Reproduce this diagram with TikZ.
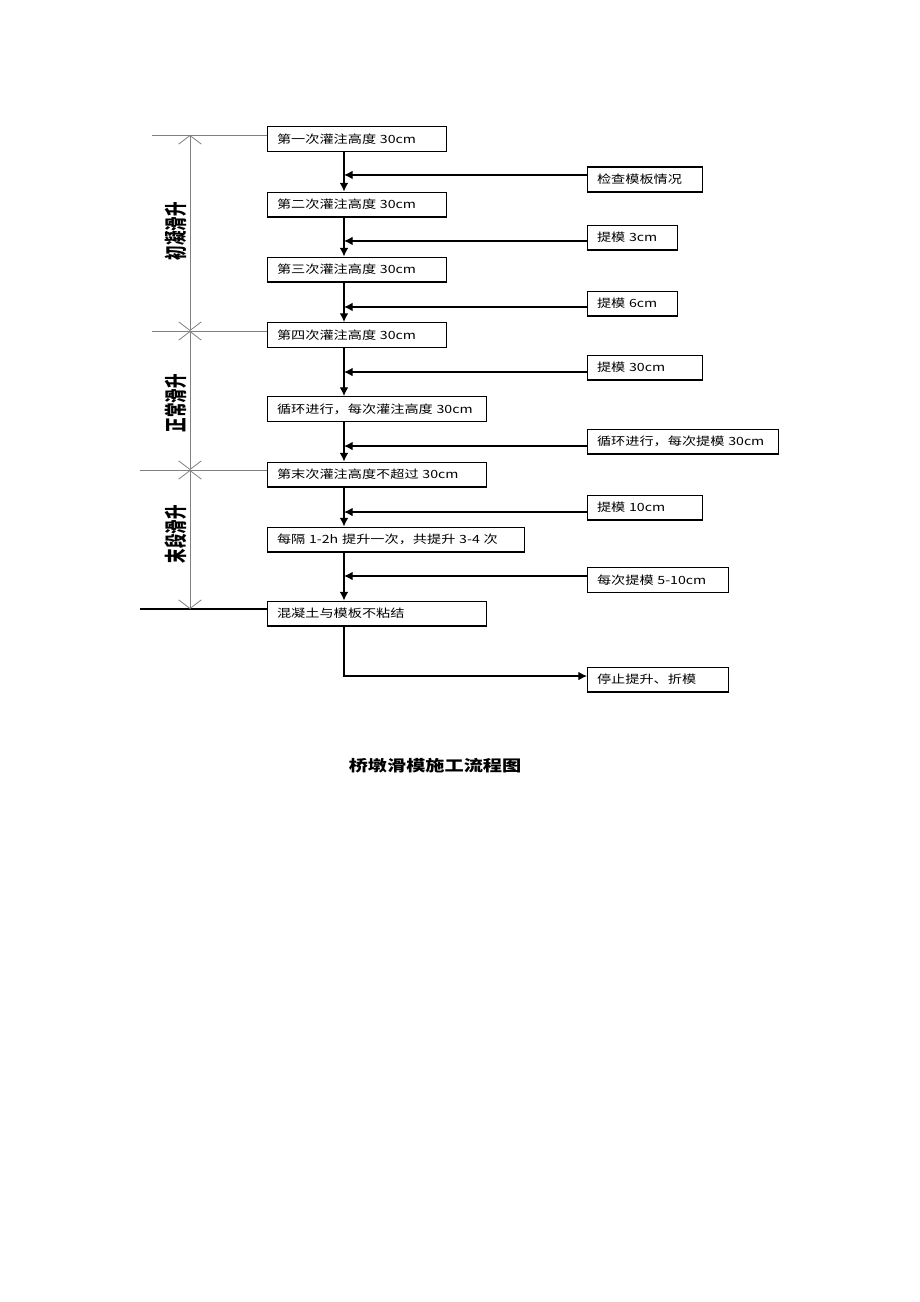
\documentclass[tikz,border=0pt]{standalone}
\usepackage{fontspec}
\newfontfamily\cjk[FakeStretch=1.25]{Noto Sans CJK SC}
\newfontfamily\cjkv[FakeStretch=0.64]{Noto Sans CJK SC}
\usetikzlibrary{arrows.meta}
\tikzset{
  stepbox/.style={draw, line width=1pt, anchor=west, minimum height=18.5pt, inner xsep=7pt, inner ysep=0pt, align=left,
    font=\cjk\fontsize{8.5}{10}\selectfont,
    execute at begin node={\leavevmode\hbox\bgroup}, execute at end node={\egroup}},
  flow/.style={line width=0.9pt, -{Latex[length=6.5pt,width=6.5pt]}},
  dimline/.style={draw=gray, line width=0.6pt},
  barbs/.style={{Straight Barb[length=6.5pt,width=17pt]}-{Straight Barb[length=6.5pt,width=17pt]}},
  phase/.style={rotate=90, font=\cjkv\bfseries\fontsize{17}{17}\selectfont}
}

\begin{document}
\begin{tikzpicture}[x=0.75pt, y=-0.75pt]
\useasboundingbox (0,0) rectangle (920,1302);
\coordinate (axis) at (344,0);
% pouring steps
\node[stepbox, text width=120.25pt] (m1) at (267,139) {第一次灌注高度 30cm};
\node[stepbox, text width=120.25pt] (m2) at (267,204.5) {第二次灌注高度 30cm};
\node[stepbox, text width=120.25pt] (m3) at (267,269.5) {第三次灌注高度 30cm};
\node[stepbox, text width=120.25pt] (m4) at (267,335) {第四次灌注高度 30cm};
\node[stepbox, text width=150.25pt] (m5) at (267,409) {循环进行，每次灌注高度 30cm};
\node[stepbox, text width=150.25pt] (m6) at (267,474.5) {第末次灌注高度不超过 30cm};
\node[stepbox, text width=178.75pt] (m7) at (267,539.5) {每隔 1-2h 提升一次，共提升 3-4 次};
\node[stepbox, text width=150.25pt] (m8) at (267,613.5) {混凝土与模板不粘结};
% lifting steps
\node[stepbox, text width=72.25pt] (s1) at (587,179.5) {检查模板情况};
\node[stepbox, text width=53.5pt] (s2) at (587,237.5) {提模 3cm};
\node[stepbox, text width=53.5pt] (s3) at (587,303.5) {提模 6cm};
\node[stepbox, text width=72.25pt] (s4) at (587,367.5) {提模 30cm};
\node[stepbox, text width=129.25pt] (s5) at (587,441.5) {循环进行，每次提模 30cm};
\node[stepbox, text width=72.25pt] (s6) at (587,507.5) {提模 10cm};
\node[stepbox, text width=91.75pt] (s7) at (587,580) {每次提模 5-10cm};
\node[stepbox, text width=91.75pt] (s8) at (587,679.5) {停止提升、折模};

\foreach \a/\b in {m1/m2,m2/m3,m3/m4,m4/m5,m5/m6,m6/m7,m7/m8}
  \draw[flow] (\a.south -| axis) -- (\b.north -| axis);
\foreach \s/\d in {s1/3.4,s2/-2.6,s3/-2.6,s4/-3.4,s5/-3.4,s6/-3.4,s7/3}
  \draw[flow] ([yshift=\d pt]\s.west) -- ([yshift=\d pt]\s.west -| axis);
\draw[flow] (m8.south -| axis) |- ([yshift=2.6pt]s8.west);

% phases on the left
\coordinate (d1) at (190,135);
\coordinate (d2) at (190,331);
\coordinate (d3) at (190,470);
\coordinate (d4) at (190,609);
\coordinate (e1) at (152,135);
\coordinate (e2) at (152,331);
\coordinate (e3) at (140,470);
\coordinate (e4) at (140,609);
\draw[dimline] (e1) -- (e1 -| m1.west);
\draw[dimline] (e2) -- (e2 -| m4.west);
\draw[dimline] (e3) -- (e3 -| m6.west);
\draw[line width=0.8pt] (e4) -- (e4 -| m8.west);
\draw[dimline, barbs] (d1) -- (d2);
\draw[dimline, barbs] (d2) -- (d3);
\draw[dimline, barbs] (d3) -- (d4);
\node[phase] (p1) at (176,231) {初凝滑升};
\node[phase] (p2) at (176,403) {正常滑升};
\node[phase] (p3) at (176,534) {末段滑升};

\node[font=\cjk\bfseries\fontsize{11.5}{13}\selectfont] (title) at (435,766) {桥墩滑模施工流程图};
\end{tikzpicture}
\end{document}
